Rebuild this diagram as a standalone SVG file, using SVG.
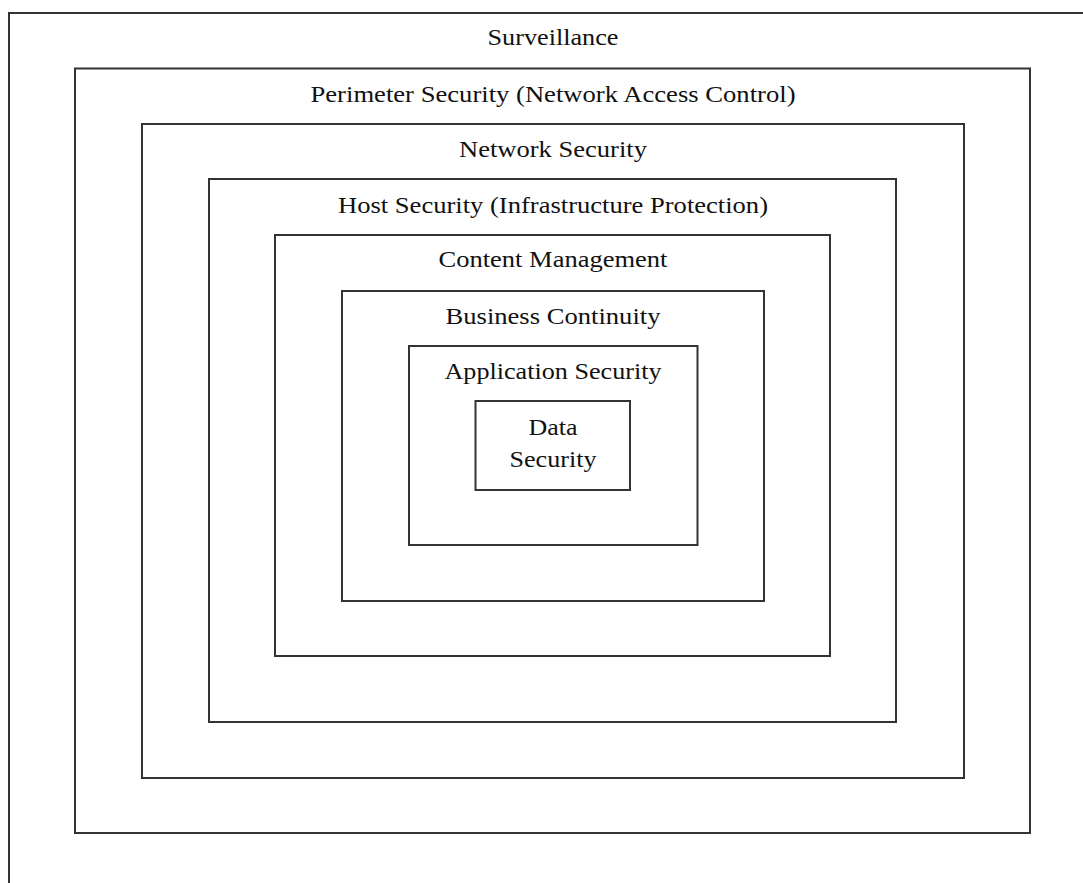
<svg xmlns="http://www.w3.org/2000/svg" width="1083" height="883" viewBox="0 0 1083 883">
<style>
.b{fill:none;stroke:#333;stroke-width:2}
.t{font-family:"Liberation Serif","Times New Roman",serif;font-size:23px;fill:#111;text-anchor:middle}
</style>
<rect width="1083" height="883" fill="#fff"/>
<g id="surveillance"><rect class="b" x="9" y="13" width="1090" height="890"/><text class="t" x="553" y="45" textLength="131" lengthAdjust="spacingAndGlyphs">Surveillance</text></g>
<g id="perimeter"><rect class="b" x="75" y="68.5" width="955" height="764.5"/><text class="t" x="553" y="102" textLength="485" lengthAdjust="spacingAndGlyphs">Perimeter Security (Network Access Control)</text></g>
<g id="network"><rect class="b" x="142" y="124" width="822" height="654"/><text class="t" x="553" y="157" textLength="188" lengthAdjust="spacingAndGlyphs">Network Security</text></g>
<g id="host"><rect class="b" x="209" y="179" width="687" height="543"/><text class="t" x="553" y="213" textLength="430" lengthAdjust="spacingAndGlyphs">Host Security (Infrastructure Protection)</text></g>
<g id="content"><rect class="b" x="275" y="235" width="555" height="421"/><text class="t" x="553" y="267" textLength="229" lengthAdjust="spacingAndGlyphs">Content Management</text></g>
<g id="business"><rect class="b" x="342" y="291" width="422" height="310"/><text class="t" x="553" y="324" textLength="215" lengthAdjust="spacingAndGlyphs">Business Continuity</text></g>
<g id="application"><rect class="b" x="409" y="346" width="288.5" height="199"/><text class="t" x="553" y="379" textLength="217" lengthAdjust="spacingAndGlyphs">Application Security</text></g>
<g id="data"><rect class="b" x="475.5" y="401" width="154.5" height="89"/><text class="t" x="553" y="435" textLength="49" lengthAdjust="spacingAndGlyphs">Data</text><text class="t" x="553" y="467" textLength="87" lengthAdjust="spacingAndGlyphs">Security</text></g>
<g id="connectors"/>
</svg>
